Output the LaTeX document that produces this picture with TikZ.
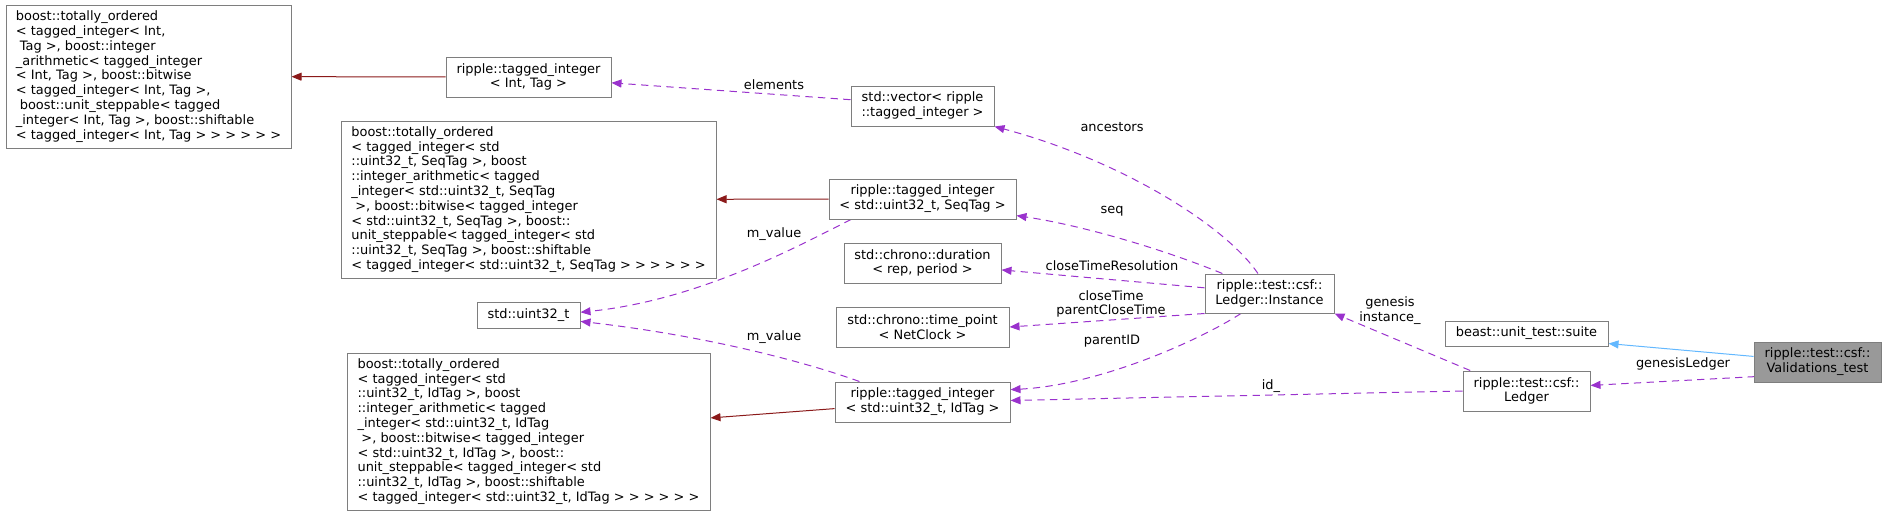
\documentclass[tikz,border=0pt]{standalone}
\usepackage{fontspec}
\setmainfont{DejaVu Sans}
\usepackage{tikz}
\usetikzlibrary{arrows.meta,backgrounds}
\definecolor{usecol}{HTML}{9A32CD}
\definecolor{tplcol}{HTML}{8B1A1A}
\definecolor{inhcol}{HTML}{63B8FF}
\definecolor{boxline}{HTML}{7E7E7E}
\definecolor{focusfill}{HTML}{999999}
\newdimen\pxu \pxu=0.75pt
\tikzset{
  sz/.style 2 args={minimum width=#1\pxu,minimum height=#2\pxu},
  cbox/.style={draw=boxline,fill=white,line width=0.75pt,align=center,inner sep=0pt},
  cboxl/.style={cbox,align=left},
  cfocus/.style={cbox,fill=focusfill},
  usearr/.style={-{Triangle[length=7.5pt,width=6pt]},line width=0.75pt,draw=usecol,dash pattern=on 5.5pt off 4pt},
  tplarr/.style={-{Triangle[length=7.5pt,width=6pt]},line width=0.75pt,draw=tplcol},
  inharr/.style={-{Triangle[length=7.5pt,width=6pt]},line width=0.75pt,draw=inhcol},
  elabel/.style={align=center,inner sep=0pt}
}
\begin{document}
\begin{tikzpicture}[x=0.75pt,y=-0.75pt,font=\fontsize{9.7}{11.1}\selectfont]
  \useasboundingbox (0,0) rectangle (1887,515);
  % classes
  \node[cboxl,sz={285}{143}] (boostint) at (148.5,76.5) {boost::totally\_ordered\\< tagged\_integer< Int,\\\hspace*{0.3em}Tag >, boost::integer\\\_arithmetic< tagged\_integer\\< Int, Tag >, boost::bitwise\\< tagged\_integer< Int, Tag >,\\\hspace*{0.3em}boost::unit\_steppable< tagged\\\_integer< Int, Tag >, boost::shiftable\\< tagged\_integer< Int, Tag > > > > > >};
  \node[cbox,sz={165}{40}] (tint) at (528.5,77) {ripple::tagged\_integer\\< Int, Tag >};
  \node[cbox,sz={143}{40}] (vec) at (922.5,106) {std::vector< ripple\\::tagged\_integer >};
  \node[cboxl,sz={375}{157}] (boostseq) at (528.5,199.5) {boost::totally\_ordered\\< tagged\_integer< std\\::uint32\_t, SeqTag >, boost\\::integer\_arithmetic< tagged\\\_integer< std::uint32\_t, SeqTag\\\hspace*{0.3em}>, boost::bitwise< tagged\_integer\\< std::uint32\_t, SeqTag >, boost::\\unit\_steppable< tagged\_integer< std\\::uint32\_t, SeqTag >, boost::shiftable\\< tagged\_integer< std::uint32\_t, SeqTag > > > > > >};
  \node[cbox,sz={187}{40}] (tseq) at (922.5,199) {ripple::tagged\_integer\\< std::uint32\_t, SeqTag >};
  \node[cbox,sz={157}{40}] (dur) at (922.5,263) {std::chrono::duration\\< rep, period >};
  \node[cbox,sz={103}{26}] (u32) at (528.5,315) {std::uint32\_t};
  \node[cbox,sz={173}{40}] (tpt) at (922.5,327) {std::chrono::time\_point\\< NetClock >};
  \node[cbox,sz={175}{40}] (tid) at (922.5,402) {ripple::tagged\_integer\\< std::uint32\_t, IdTag >};
  \node[cboxl,sz={363}{157}] (boostid) at (528.5,431.5) {boost::totally\_ordered\\< tagged\_integer< std\\::uint32\_t, IdTag >, boost\\::integer\_arithmetic< tagged\\\_integer< std::uint32\_t, IdTag\\\hspace*{0.3em}>, boost::bitwise< tagged\_integer\\< std::uint32\_t, IdTag >, boost::\\unit\_steppable< tagged\_integer< std\\::uint32\_t, IdTag >, boost::shiftable\\< tagged\_integer< std::uint32\_t, IdTag > > > > > >};
  \node[cbox,sz={129}{39}] (inst) at (1269.5,293.5) {ripple::test::csf::\\Ledger::Instance};
  \node[cbox,sz={163}{25}] (suite) at (1526.5,333.5) {beast::unit\_test::suite};
  \node[cbox,sz={127}{40}] (ledger) at (1526.5,391) {ripple::test::csf::\\Ledger};
  \node[cfocus,sz={127}{40}] (valid) at (1817.5,362) {ripple::test::csf::\\Validations\_test};
  % edge labels
  \node[elabel] (lelem) at (774,85) {elements};
  \node[elabel] (lanc) at (1112,127) {ancestors};
  \node[elabel] (lseq) at (1112,211) {seq};
  \node[elabel] (lmv1) at (774,234) {m\_value};
  \node[elabel] (lctr) at (1112,266) {closeTimeResolution};
  \node[elabel] (lct) at (1111,304) {closeTime\\parentCloseTime};
  \node[elabel] (lpid) at (1112,341) {parentID};
  \node[elabel] (lmv2) at (774,337) {m\_value};
  \node[elabel] (lid) at (1271,386) {id\_};
  \node[elabel] (lgen) at (1390,311) {genesis\\instance\_};
  \node[elabel] (lgl) at (1683,364) {genesisLedger};
  % edges
  \begin{scope}[on background layer]
  \draw[tplarr] (tint) -- (boostint); \draw[tplarr] (tseq) -- (boostseq); \draw[tplarr] (tid) -- (boostid);
  \draw[usearr] (vec.175) -- (tint.-4);
  \draw[usearr] (inst.120) .. controls (1225,225) and (1120,160) .. (vec.south east);
  \draw[usearr] (inst.157) .. controls (1160,248) and (1080,225) .. (tseq.-10);
  \draw[usearr] (tseq.196) .. controls (800,245) and (700,300) .. (u32.3);
  \draw[usearr] (inst.175) -- (dur.-5);
  \draw[usearr] (inst.south west) -- (tpt.east);
  \draw[usearr] (inst.215) .. controls (1200,340) and (1100,385) .. (tid.8);
  \draw[usearr] (tid.162) .. controls (800,360) and (700,335) .. (u32.-7);
  \draw[usearr] (ledger.west) -- (tid.1);
  \draw[usearr] (ledger.160) -- (inst.south east);
  \draw[inharr] (valid.175) -- (suite.-7);
  \draw[usearr] (valid.-7) -- (ledger.5);
  \end{scope}
\end{tikzpicture}
\end{document}
